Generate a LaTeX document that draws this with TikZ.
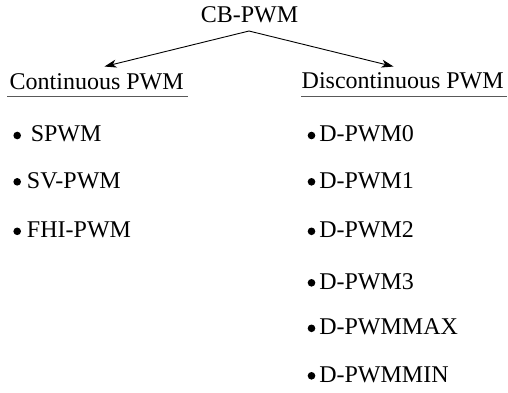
\documentclass[tikz,border=0pt]{standalone}
\usepackage{fontspec}
\setmainfont{Liberation Serif}
\usetikzlibrary{arrows.meta}
\newcommand{\bul}{\tikz[baseline=-6.2pt]\fill (0,0) circle (3.8pt);}
\begin{document}
\begin{tikzpicture}[x=1pt,y=1pt,
  lbl/.style={inner sep=0pt,font=\fontsize{24}{28}\selectfont},
  item/.style={lbl,anchor=base west},
  conn/.style={line width=0.9pt,-{Stealth[length=12pt,width=8pt,inset=3.5pt]}},
  uline/.style={line width=1pt,black!65}]
\useasboundingbox (0,0) rectangle (508,-392);
\node[lbl,anchor=base] (cb) at (249.5,-22.5) {CB-PWM};
\node[lbl,anchor=base west] (cont) at (9.5,-89.3) {Continuous PWM};
\node[lbl,anchor=base west] (disc) at (301.5,-88.5) {Discontinuous PWM};
\coordinate (apex) at (249,-31);
\coordinate (lt) at (104.5,-66.5);
\coordinate (rt) at (393.5,-66.5);
\draw[conn] (apex) -- (lt);
\draw[conn] (apex) -- (rt);
\draw[uline] (7,-96.3) -- (188,-96.3);
\draw[uline] (301,-96) -- (507,-96);
% left items
\node[item] (l1) at (13.2,-141.7) {\bul\hspace{9.8pt}SPWM};
\node[item] (l2) at (13.2,-188) {\bul\hspace{6pt}SV-PWM};
\node[item] (l3) at (13.2,-237.5) {\bul\hspace{6pt}FHI-PWM};
% right items
\node[item] (r1) at (307.5,-141.7) {\bul\hspace{4pt}D-PWM0};
\node[item] (r2) at (307.5,-188) {\bul\hspace{4pt}D-PWM1};
\node[item] (r3) at (307.5,-237.5) {\bul\hspace{4pt}D-PWM2};
\node[item] (r4) at (307.5,-289) {\bul\hspace{4pt}D-PWM3};
\node[item] (r5) at (307.5,-334.5) {\bul\hspace{4pt}D-PWMMAX};
\node[item] (r6) at (307.5,-382) {\bul\hspace{4pt}D-PWMMIN};
\end{tikzpicture}
\end{document}
